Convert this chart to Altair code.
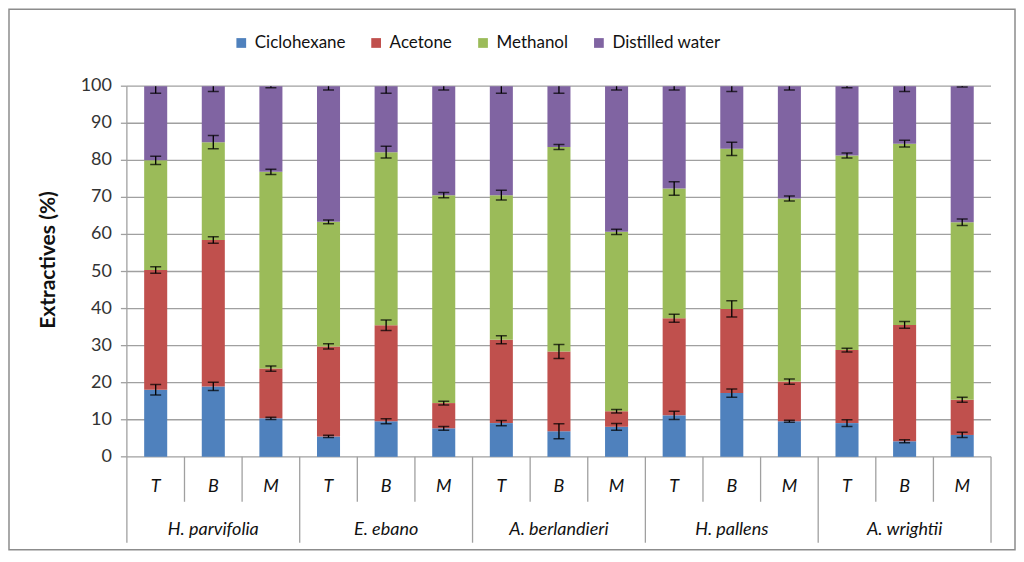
import altair as alt
import pandas as pd

species = ["H. parvifolia", "E. ebano", "A. berlandieri", "H. pallens", "A. wrightii"]
parts = ["T", "B", "M"]
solvents = ["Ciclohexane", "Acetone", "Methanol", "Distilled water"]
colors = ["#4f81bd", "#c0504d", "#9bbb59", "#8064a2"]

# percent of each solvent fraction, bars in order species x part
ciclohexane = [18.1, 19.0, 10.4, 5.5, 9.6, 7.7, 9.1, 6.9, 8.1, 11.2, 17.2, 9.6, 9.1, 4.2, 5.9]
acetone = [32.3, 39.5, 13.4, 24.3, 25.9, 6.8, 22.5, 21.5, 4.2, 26.2, 22.7, 10.7, 19.7, 31.4, 9.5]
methanol = [29.6, 26.4, 53.1, 33.6, 46.7, 56.1, 39.0, 55.2, 48.4, 35.0, 43.2, 49.4, 52.5, 48.9, 47.9]
water = [20.0, 15.1, 23.1, 36.6, 17.8, 29.4, 29.4, 16.4, 39.3, 27.6, 16.9, 30.3, 18.7, 15.5, 36.7]

# error bar half-lengths
err_cic = [1.4, 1.1, 0.3, 0.3, 0.7, 0.5, 0.7, 2.0, 0.9, 1.1, 1.1, 0.3, 0.9, 0.4, 0.7]
err_ace = [0.9, 0.9, 0.7, 0.7, 1.4, 0.5, 1.1, 1.9, 0.5, 1.1, 2.2, 0.7, 0.5, 0.9, 0.7]
err_met = [1.1, 1.8, 0.7, 0.5, 1.6, 0.7, 1.3, 0.7, 0.7, 1.8, 1.8, 0.7, 0.7, 0.9, 0.9]
err_wat = [1.9, 1.4, 0.4, 1.0, 1.9, 1.0, 1.9, 1.9, 1.0, 1.0, 1.4, 1.0, 0.4, 1.4, 0.2]

y_ticks = list(range(0, 101, 10))

values = [ciclohexane, acetone, methanol, water]
errors = [err_cic, err_ace, err_met, err_wat]

keys = []
rows = []
for i, sp in enumerate(species):
    for j, p in enumerate(parts):
        k = i * 3 + j
        key = sp + " " + p
        keys.append(key)
        top = 0
        for s in range(4):
            top += values[s][k]
            rows.append({"key": key, "species": sp, "part": p, "solvent": solvents[s],
                         "ord": s, "value": values[s][k], "top": top,
                         "lo": top - errors[s][k], "hi": top + errors[s][k]})
df = pd.DataFrame(rows)
labels = df[df["ord"] == 0][["key", "species", "part"]]
ticks = pd.DataFrame({"t": y_ticks})

W, H = 865, 371
FONT = "Lato"
GRAY = "#a0a0a0"

xs = alt.Scale(domain=keys, paddingInner=0, paddingOuter=0)
x = alt.X("key:N", scale=xs, axis=None)
ys = alt.Scale(domain=[0, 100], nice=False)
yt = alt.Y("t:Q", scale=ys, axis=None)

# hand-made y axis (the axis `values` setting is not honoured by the renderer here)
grid = alt.Chart(ticks).mark_rule(color=GRAY, strokeWidth=1.3).encode(
    y=yt, x=alt.value(0), x2=alt.value(W))
tick_marks = alt.Chart(ticks).mark_rule(color=GRAY, strokeWidth=1.3).encode(
    y=yt, x=alt.value(-6), x2=alt.value(0))
tick_labels = alt.Chart(ticks).mark_text(font=FONT, fontSize=18, align="right",
                                         baseline="middle", color="#333").encode(
    y=yt, x=alt.value(-15), text="t:Q")
domain = alt.Chart(ticks.head(1)).mark_rule(color=GRAY, strokeWidth=1.3).encode(
    x=alt.value(0), y=alt.value(0), y2=alt.value(H))
y_title = alt.Chart(pd.DataFrame({"txt": ["Extractives (%)"]})).mark_text(
    font=FONT, fontSize=21, fontWeight="bold", angle=270, baseline="middle",
    color="#111").encode(x=alt.value(-78), y=alt.value(174), text="txt:N")

bars = alt.Chart(df).mark_bar(width=alt.RelativeBandSize(0.4)).encode(
    x=x,
    y=alt.Y("value:Q", stack="zero", scale=ys, axis=None),
    color=alt.Color("solvent:N", scale=alt.Scale(domain=solvents, range=colors),
                    legend=alt.Legend(title=None, orient="none", legendX=106, legendY=-52,
                                      direction="horizontal", symbolType="square",
                                      symbolSize=95, symbolStrokeWidth=0, labelFontSize=17,
                                      labelFont=FONT, labelColor="#111", columnPadding=22,
                                      labelOffset=5)),
    order=alt.Order("ord:Q"),
)

err_rule = alt.Chart(df).mark_rule(color="black", strokeWidth=1.3, clip=True).encode(
    x=x, y=alt.Y("lo:Q", scale=ys, axis=None), y2="hi:Q")
cap_lo = alt.Chart(df).mark_tick(color="black", size=11, thickness=1.5, clip=True).encode(
    x=x, y=alt.Y("lo:Q", scale=ys, axis=None))
cap_hi = alt.Chart(df).mark_tick(color="black", size=11, thickness=1.5, clip=True).encode(
    x=x, y=alt.Y("hi:Q", scale=ys, axis=None))

# category dividers under the plot
short_div = alt.Chart(labels[labels["part"] != "T"]).mark_rule(color=GRAY, strokeWidth=1.3).encode(
    x=alt.X("key:N", scale=xs, axis=None, bandPosition=0),
    y=alt.value(H), y2=alt.value(H + 45))
long_div = alt.Chart(labels[labels["part"] == "T"]).mark_rule(color=GRAY, strokeWidth=1.3).encode(
    x=alt.X("key:N", scale=xs, axis=None, bandPosition=0),
    y=alt.value(H), y2=alt.value(H + 86))
end_div = alt.Chart(labels.tail(1)).mark_rule(color=GRAY, strokeWidth=1.3).encode(
    x=alt.X("key:N", scale=xs, axis=None, bandPosition=1),
    y=alt.value(H), y2=alt.value(H + 86))

part_text = alt.Chart(labels).mark_text(font=FONT, fontSize=18, fontStyle="italic",
                                        baseline="middle", color="#111").encode(
    x=x, y=alt.value(H + 30), text="part:N")
sp_text = alt.Chart(labels[labels["part"] == "B"]).mark_text(
    font=FONT, fontSize=18, fontStyle="italic", baseline="middle", color="#111").encode(
    x=x, y=alt.value(H + 73), text="species:N")

frame = alt.Chart(pd.DataFrame({"f": [0]})).mark_rect(fill=None, stroke="#8c8c8c", strokeWidth=1.5).encode(
    x=alt.value(-118), x2=alt.value(W + 24), y=alt.value(-77), y2=alt.value(H + 93))

chart = alt.layer(
    frame, grid, bars, err_rule, cap_lo, cap_hi, domain, tick_marks, tick_labels, y_title,
    short_div, long_div, end_div, part_text, sp_text
).properties(width=W, height=H, padding=0).configure_view(stroke=None)

chart.save("out.html", embed_options={"renderer": "svg", "actions": False})
